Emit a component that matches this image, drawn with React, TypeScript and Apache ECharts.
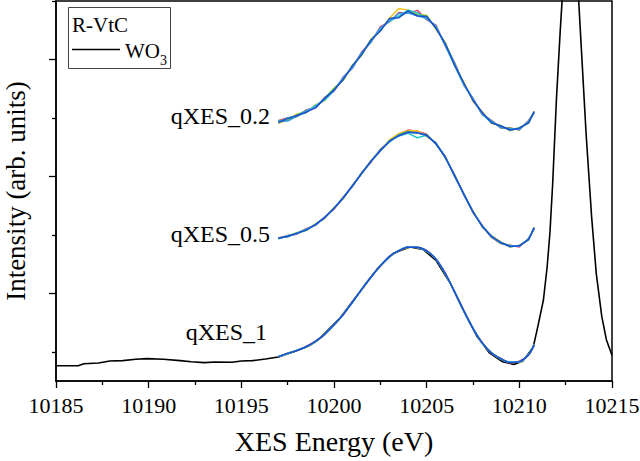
import React, { useEffect, useRef } from "react";
import * as echarts from "echarts";

// Energy grid of the qXES scans (eV)
const qEnergy = [
  10197.0, 10197.5, 10198.0, 10198.5, 10199.0, 10199.5, 10200.0, 10200.5, 10201.0, 10201.5,
  10202.0, 10202.5, 10203.0, 10203.5, 10204.0, 10204.5, 10205.0, 10205.5, 10206.0, 10206.5,
  10207.0, 10207.5, 10208.0, 10208.5, 10209.0, 10209.5, 10210.0, 10210.5, 10210.8,
];

// WO3 reference spectrum
const wo3Energy = [
  10185.0, 10186.2, 10186.5, 10187.3, 10187.9, 10188.6, 10189.3, 10189.9, 10190.8, 10191.7,
  10192.3, 10193.0, 10193.6, 10194.5, 10195.0, 10195.6, 10196.3, 10197.0, 10197.8, 10198.7,
  10199.3, 10200.3, 10201.4, 10202.3, 10203.2, 10204.1, 10204.8, 10205.5, 10206.3, 10207.0,
  10207.7, 10208.4, 10209.1, 10209.7, 10210.2, 10210.75, 10211.0, 10211.3, 10211.5, 10211.65,
  10211.8, 10212.0, 10212.2, 10212.5, 10212.75, 10213.0, 10213.2, 10213.35, 10213.6, 10213.9,
  10214.15, 10214.45, 10214.7, 10215.0,
];
const wo3Intensity = [
  0.131, 0.131, 0.148, 0.154, 0.171, 0.174, 0.186, 0.191, 0.186, 0.174,
  0.165, 0.157, 0.163, 0.16, 0.171, 0.174, 0.188, 0.205, 0.248, 0.305,
  0.376, 0.534, 0.764, 0.952, 1.093, 1.146, 1.126, 1.032, 0.828, 0.602,
  0.385, 0.238, 0.165, 0.142, 0.172, 0.29, 0.467, 0.693, 0.975, 1.266,
  1.691, 2.404, 2.977, 3.75, 3.95, 3.7, 3.26, 2.832, 2.121, 1.405,
  0.921, 0.55, 0.351, 0.22,
];

// qXES_1 scans
const q1Scans = [
  [0.205, 0.237, 0.259, 0.295, 0.34, 0.397, 0.484, 0.567, 0.678, 0.782, 0.894, 0.982, 1.069, 1.112, 1.149, 1.139, 1.117, 1.039, 0.924, 0.762, 0.604, 0.447, 0.329, 0.237, 0.194, 0.157, 0.169, 0.222, 0.307],
  [0.21, 0.232, 0.264, 0.289, 0.335, 0.403, 0.477, 0.573, 0.672, 0.788, 0.887, 0.988, 1.062, 1.118, 1.142, 1.147, 1.109, 1.045, 0.917, 0.768, 0.597, 0.453, 0.322, 0.243, 0.187, 0.163, 0.162, 0.228, 0.312],
  [0.207, 0.237, 0.261, 0.294, 0.335, 0.401, 0.481, 0.569, 0.676, 0.784, 0.891, 0.986, 1.066, 1.114, 1.146, 1.141, 1.113, 1.041, 0.921, 0.764, 0.601, 0.449, 0.326, 0.239, 0.191, 0.159, 0.166, 0.224, 0.309],
  [0.211, 0.233, 0.264, 0.29, 0.339, 0.398, 0.479, 0.572, 0.673, 0.787, 0.888, 0.983, 1.063, 1.117, 1.143, 1.144, 1.11, 1.044, 0.918, 0.767, 0.598, 0.452, 0.323, 0.242, 0.188, 0.162, 0.163, 0.227, 0.311],
  [0.208, 0.235, 0.262, 0.292, 0.337, 0.4, 0.48, 0.57, 0.675, 0.785, 0.89, 0.985, 1.065, 1.115, 1.145, 1.142, 1.112, 1.042, 0.92, 0.765, 0.6, 0.45, 0.325, 0.24, 0.19, 0.16, 0.165, 0.225, 0.31],
  [0.207, 0.236, 0.261, 0.293, 0.338, 0.401, 0.481, 0.569, 0.676, 0.786, 0.889, 0.986, 1.066, 1.114, 1.144, 1.143, 1.113, 1.041, 0.921, 0.764, 0.601, 0.449, 0.326, 0.239, 0.191, 0.159, 0.166, 0.224, 0.309],
];

// qXES_0.5 scans
const q05Scans = [
  [0.222, 0.244, 0.256, 0.302, 0.331, 0.405, 0.469, 0.574, 0.664, 0.785, 0.872, 0.982, 1.051, 1.113, 1.146, 1.137, 1.111, 1.024, 0.922, 0.752, 0.605, 0.439, 0.33, 0.228, 0.175, 0.162, 0.146, 0.219, 0.301],
  [0.225, 0.233, 0.268, 0.287, 0.344, 0.392, 0.484, 0.559, 0.678, 0.771, 0.888, 0.965, 1.064, 1.116, 1.141, 1.141, 1.09, 1.04, 0.906, 0.769, 0.589, 0.456, 0.314, 0.244, 0.19, 0.145, 0.162, 0.205, 0.316],
  [0.216, 0.243, 0.266, 0.298, 0.335, 0.401, 0.475, 0.572, 0.668, 0.782, 0.879, 0.979, 1.045, 1.107, 1.135, 1.122, 1.107, 1.027, 0.92, 0.758, 0.602, 0.443, 0.325, 0.233, 0.178, 0.158, 0.152, 0.218, 0.303],
  [0.224, 0.234, 0.264, 0.289, 0.34, 0.396, 0.478, 0.564, 0.672, 0.774, 0.882, 0.968, 1.055, 1.095, 1.118, 1.08, 1.102, 1.029, 0.916, 0.755, 0.6, 0.445, 0.327, 0.231, 0.187, 0.148, 0.158, 0.207, 0.313],
  [0.217, 0.242, 0.259, 0.297, 0.333, 0.402, 0.474, 0.569, 0.667, 0.781, 0.878, 0.976, 1.046, 1.104, 1.12, 1.125, 1.097, 1.038, 0.911, 0.765, 0.594, 0.451, 0.318, 0.241, 0.18, 0.156, 0.152, 0.215, 0.305],
  [0.223, 0.236, 0.265, 0.291, 0.34, 0.396, 0.478, 0.565, 0.672, 0.776, 0.882, 0.97, 1.053, 1.098, 1.13, 1.122, 1.101, 1.03, 0.916, 0.758, 0.599, 0.446, 0.324, 0.234, 0.185, 0.15, 0.157, 0.21, 0.312],
];

// qXES_0.2 scans
const q02Scans = [
  [0.226, 0.252, 0.262, 0.318, 0.338, 0.425, 0.479, 0.601, 0.676, 0.818, 0.897, 1.03, 1.071, 1.152, 1.146, 1.17, 1.09, 1.044, 0.866, 0.726, 0.531, 0.419, 0.277, 0.229, 0.163, 0.165, 0.146, 0.228, 0.292],
  [0.205, 0.231, 0.284, 0.294, 0.362, 0.398, 0.505, 0.572, 0.703, 0.787, 0.925, 0.995, 1.104, 1.185, 1.172, 1.135, 1.128, 1.008, 0.895, 0.697, 0.559, 0.391, 0.302, 0.203, 0.187, 0.14, 0.169, 0.203, 0.309],
  [0.229, 0.227, 0.276, 0.313, 0.342, 0.42, 0.501, 0.575, 0.7, 0.791, 0.921, 1.0, 1.096, 1.115, 1.157, 1.13, 1.122, 1.015, 0.89, 0.72, 0.542, 0.407, 0.287, 0.224, 0.166, 0.161, 0.149, 0.224, 0.296],
  [0.209, 0.25, 0.269, 0.297, 0.357, 0.402, 0.483, 0.595, 0.68, 0.81, 0.9, 1.021, 1.075, 1.12, 1.172, 1.149, 1.098, 1.035, 0.871, 0.7, 0.535, 0.415, 0.281, 0.207, 0.184, 0.143, 0.166, 0.206, 0.304],
  [0.224, 0.223, 0.263, 0.312, 0.344, 0.418, 0.484, 0.593, 0.682, 0.808, 0.902, 1.018, 1.077, 1.144, 1.148, 1.124, 1.101, 1.033, 0.873, 0.718, 0.538, 0.412, 0.283, 0.222, 0.169, 0.157, 0.151, 0.22, 0.294],
  [0.211, 0.244, 0.271, 0.299, 0.336, 0.417, 0.488, 0.579, 0.697, 0.793, 0.917, 0.993, 1.101, 1.107, 1.165, 1.122, 1.117, 1.019, 0.886, 0.704, 0.551, 0.399, 0.296, 0.209, 0.181, 0.147, 0.162, 0.21, 0.305],
];

// Vertical offsets used to stack the spectra
const groupOffsets = [0, 1, 2];
const groupNames = ["qXES_1", "qXES_0.5", "qXES_0.2"];
const scanColors = ["#ee3a6a", "#f2c316", "#49c43a", "#22c9c9", "#3a9ee8", "#1f4fd1"];

const xTicks = { min: 10185, max: 10215, interval: 5 };
const yRange = { min: 0, max: 3.25 };
const yMajorTicks = [0.75, 1.75, 2.75];
const yMinorTicks = [0.25, 1.25, 2.25, 3.25];

const SERIF = '"Liberation Serif", "Times New Roman", serif';

function buildOption() {
  const series: any[] = [
    {
      name: "WO3",
      type: "line",
      data: wo3Energy.map((e, i) => [e, wo3Intensity[i]]),
      symbol: "none",
      lineStyle: { color: "#000", width: 1.6 },
      clip: true,
      z: 2,
    },
  ];
  [q1Scans, q05Scans, q02Scans].forEach((scans, g) => {
    scans.forEach((scan, s) => {
      series.push({
        name: `${groupNames[g]} #${s + 1}`,
        type: "line",
        data: qEnergy.map((e, i) => [e, scan[i] + groupOffsets[g]]),
        symbol: "none",
        smooth: g === 0 ? 0.3 : false,
        lineStyle: { color: scanColors[s], width: 1.5 },
        z: 3,
      });
    });
  });

  const label = (text: string, x: number, y: number) => ({
    type: "text",
    x,
    y,
    style: {
      text,
      fontFamily: SERIF,
      fontSize: 24,
      fill: "#000",
      align: "right",
      verticalAlign: "middle",
    },
  });

  return {
    animation: false,
    backgroundColor: "#fff",
    grid: {
      left: 56,
      right: 28,
      top: 1,
      bottom: 80,
      outerBoundsMode: "none",
      show: true,
      borderColor: "#000",
      borderWidth: 1.5,
    },
    xAxis: {
      type: "value",
      min: xTicks.min,
      max: xTicks.max,
      interval: xTicks.interval,
      name: "XES Energy (eV)",
      nameLocation: "middle",
      nameGap: 46,
      nameTextStyle: { fontFamily: SERIF, fontSize: 28, color: "#000" },
      axisLine: { lineStyle: { color: "#000", width: 1.5 } },
      axisTick: { length: 7, lineStyle: { color: "#000", width: 1.3 } },
      minorTick: { show: true, splitNumber: 2, length: 4, lineStyle: { color: "#000", width: 1.3 } },
      axisLabel: {
        fontFamily: SERIF,
        fontSize: 22,
        color: "#000",
        margin: 13,
        formatter: (v: number) => String(v),
      },
      splitLine: { show: false },
    },
    yAxis: [
      {
        type: "value",
        min: yRange.min,
        max: yRange.max,
        position: "left",
        name: "Intensity (arb. units)",
        nameLocation: "middle",
        nameGap: 27,
        nameTextStyle: { fontFamily: SERIF, fontSize: 27, color: "#000" },
        axisLine: { show: true, lineStyle: { color: "#000", width: 1.5 } },
        axisTick: { show: true, customValues: yMajorTicks, length: 7, lineStyle: { color: "#000", width: 1.3 } },
        axisLabel: { show: false },
        splitLine: { show: false },
      },
      {
        type: "value",
        min: yRange.min,
        max: yRange.max,
        position: "left",
        offset: 0,
        axisLine: { show: false },
        axisTick: { show: true, customValues: yMinorTicks, length: 4, lineStyle: { color: "#000", width: 1.3 } },
        axisLabel: { show: false },
        splitLine: { show: false },
      },
    ],
    graphic: [
      label("qXES_0.2", 270, 116),
      label("qXES_0.5", 270, 234),
      label("qXES_1", 267, 332),
      {
        type: "group",
        children: [
          {
            type: "rect",
            shape: { x: 68.5, y: 7.5, width: 102, height: 61 },
            style: { fill: "#fff", stroke: "#444", lineWidth: 1 },
          },
          {
            type: "text",
            x: 72,
            y: 25,
            style: { text: "R-VtC", fontFamily: SERIF, fontSize: 21, fill: "#000", verticalAlign: "middle" },
          },
          {
            type: "line",
            shape: { x1: 72, y1: 49.5, x2: 120, y2: 49.5 },
            style: { stroke: "#000", lineWidth: 1.6 },
          },
          {
            type: "text",
            x: 125,
            y: 51,
            style: { text: "WO", fontFamily: SERIF, fontSize: 21, fill: "#000", verticalAlign: "middle" },
          },
          {
            type: "text",
            x: 160,
            y: 60,
            style: { text: "3", fontFamily: SERIF, fontSize: 14, fill: "#000", verticalAlign: "middle" },
          },
        ],
      },
    ],
    series,
  };
}

export default function App() {
  const ref = useRef<HTMLDivElement>(null);
  useEffect(() => {
    if (!ref.current) return;
    const chart = echarts.init(ref.current, null, { renderer: "svg" });
    chart.setOption(buildOption() as any);
    return () => chart.dispose();
  }, []);
  return (
    <div
      ref={ref}
      style={{ position: "absolute", left: 0, top: 0, width: 640, height: 461, background: "#fff" }}
    />
  );
}
